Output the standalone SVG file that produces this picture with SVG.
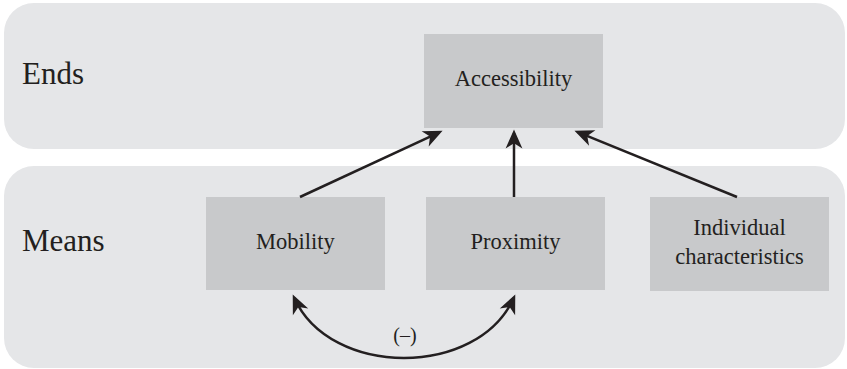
<svg xmlns="http://www.w3.org/2000/svg" width="847" height="369" viewBox="0 0 847 369">
  <style>
    .panel { fill: #e5e6e8; }
    .box { fill: #c8c9cb; }
    text { fill: #231f20; }
    .tier { font-size: 31px; }
    .node { font-size: 22.5px; text-anchor: middle; }
    .link { fill: none; stroke: #231f20; stroke-width: 2.5; marker-end: url(#head); }
  </style>
  <defs>
    <marker id="head" markerUnits="userSpaceOnUse" markerWidth="24" markerHeight="24" viewBox="-14 -8 20 16" refX="0" refY="0" orient="auto-start-reverse">
      <path d="M3,0 L-13,-7 L-8.5,0 L-13,7 Z" fill="#231f20"/>
    </marker>
  </defs>

  <g font-family="Liberation Serif, Times New Roman, serif">
    <!-- tier bands -->
    <g id="ends-band">
      <rect class="panel" x="4" y="3" width="841" height="146" rx="30" ry="30"/>
      <text class="tier" x="22" y="84">Ends</text>
    </g>
    <g id="means-band">
      <rect class="panel" x="4" y="166" width="841" height="202" rx="30" ry="30"/>
      <text class="tier" x="22" y="251">Means</text>
    </g>

    <!-- nodes -->
    <g id="accessibility">
      <rect class="box" x="424" y="34" width="179" height="94"/>
      <text class="node" x="513.5" y="86">Accessibility</text>
    </g>
    <g id="mobility">
      <rect class="box" x="206" y="197" width="179" height="93"/>
      <text class="node" x="295.5" y="249">Mobility</text>
    </g>
    <g id="proximity">
      <rect class="box" x="426" y="197" width="179" height="93"/>
      <text class="node" x="515.5" y="249">Proximity</text>
    </g>
    <g id="individual">
      <rect class="box" x="650" y="197" width="179" height="94"/>
      <text class="node" x="739.5" y="235">Individual</text>
      <text class="node" x="739.5" y="264">characteristics</text>
    </g>

    <!-- connectors -->
    <g id="connectors">
      <path class="link" d="M300,197 L439.3,132.3"/>
      <path class="link" d="M514,197 L514,133"/>
      <path class="link" d="M737,197 L577.8,132.1"/>
      <path class="link" style="marker-start: url(#head)" d="M294.2,297.7 C330,378 478,378 513.8,297.7"/>
      <text x="405" y="342" font-size="20" text-anchor="middle">(–)</text>
    </g>
  </g>
</svg>
